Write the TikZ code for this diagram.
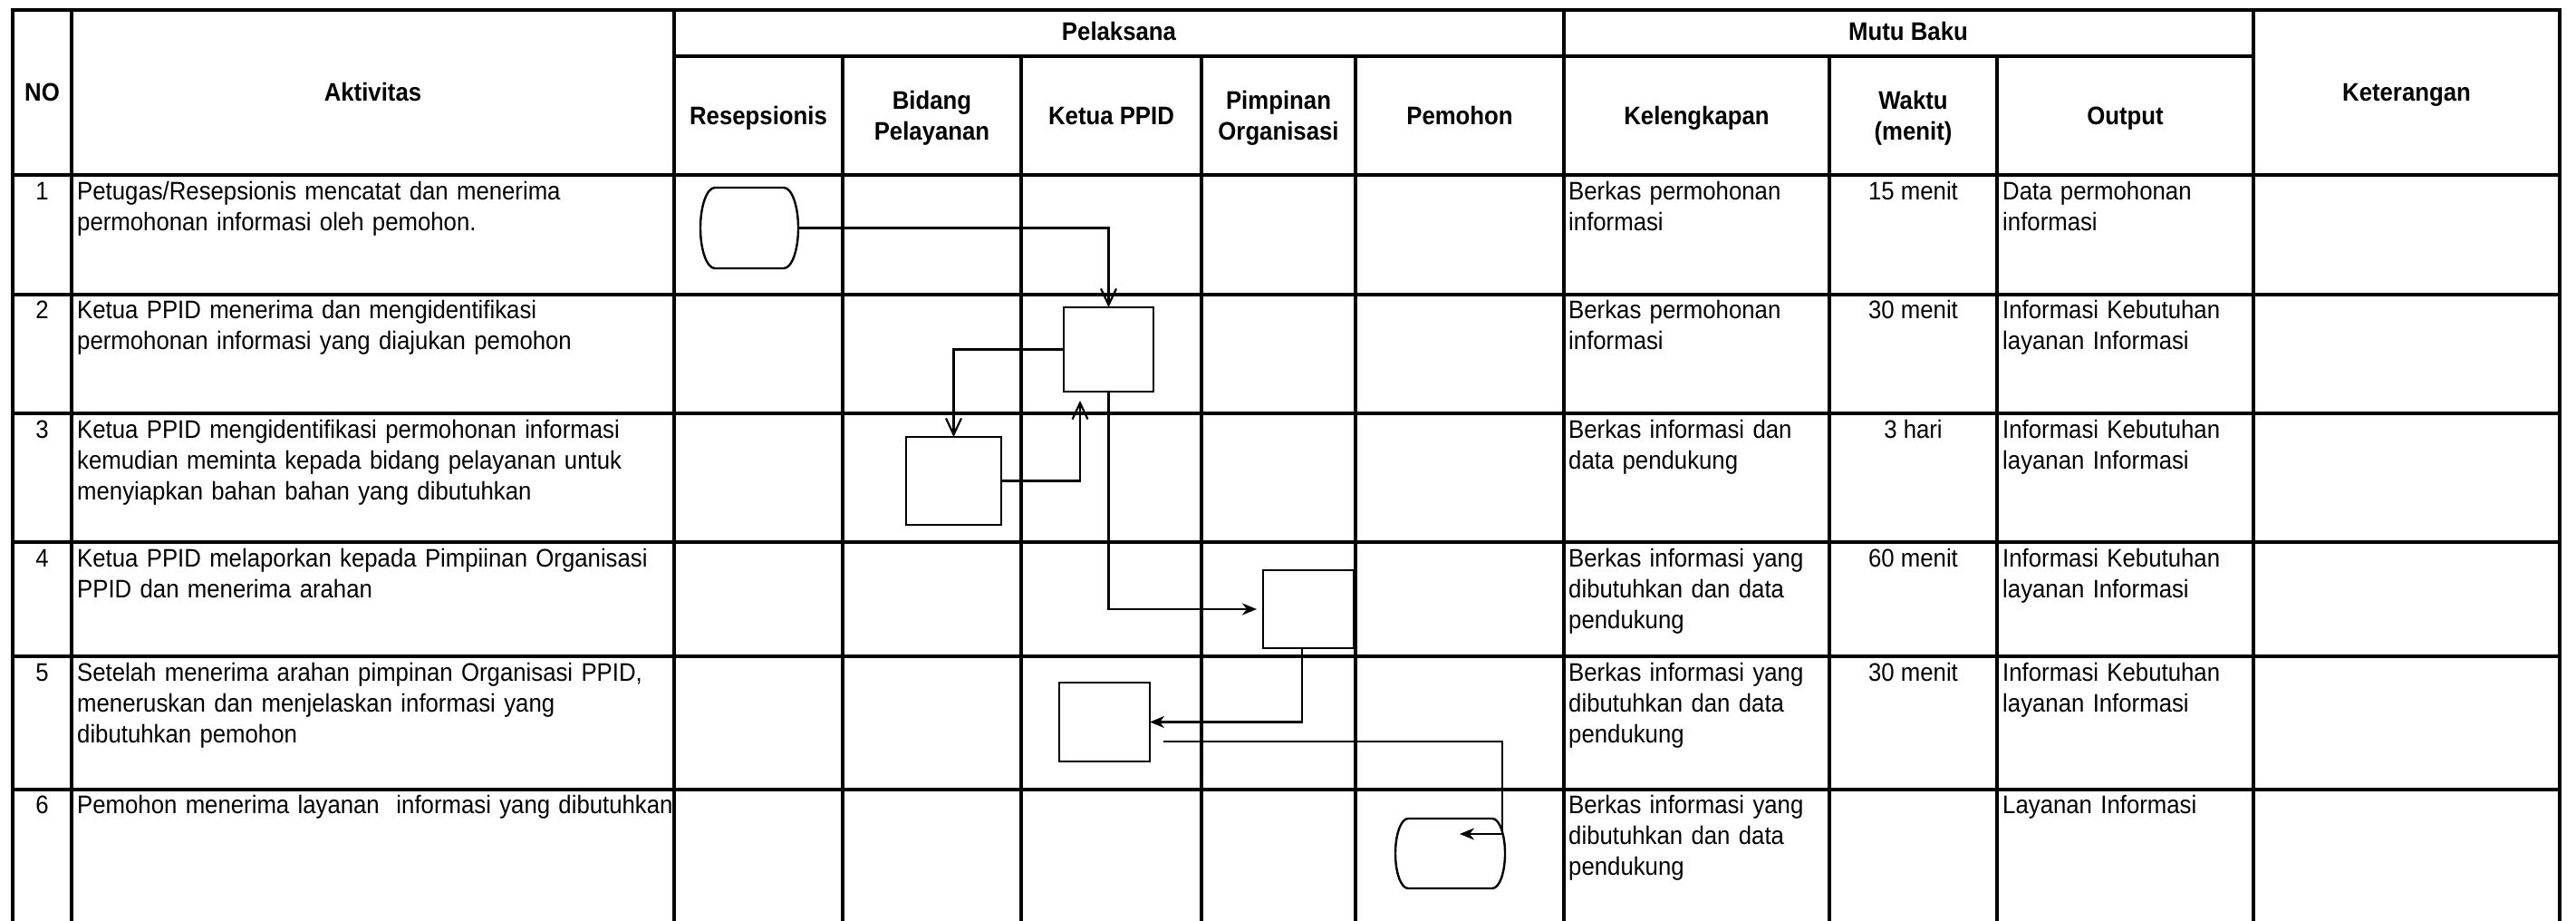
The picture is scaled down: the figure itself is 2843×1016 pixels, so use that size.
\documentclass[tikz,border=0pt]{standalone}
\usepackage{fontspec}
\setmainfont{Liberation Sans}[FakeStretch=0.92]
\usetikzlibrary{arrows.meta}
\newcommand\termout[3]{%
  \draw[shapeline] ([xshift=#2pt]#1.north west) -- ([xshift=-#2pt]#1.north east)
    .. controls +(0.552*#2pt,0pt) and +(0pt,0.552*#3pt) .. (#1.east)
    .. controls +(0pt,-0.552*#3pt) and +(0.552*#2pt,0pt) .. ([xshift=-#2pt]#1.south east)
    -- ([xshift=#2pt]#1.south west)
    .. controls +(-0.552*#2pt,0pt) and +(0pt,-0.552*#3pt) .. (#1.west)
    .. controls +(0pt,0.552*#3pt) and +(-0.552*#2pt,0pt) .. ([xshift=#2pt]#1.north west);}
\begin{document}
\begin{tikzpicture}[x=1pt,y=-1pt,
  gridline/.style={line width=3.5pt,line cap=rect},
  shapeline/.style={line width=2.4pt,line join=round},
  procbox/.style={draw,line width=2.4pt,inner sep=0pt,outer sep=0pt},
  termbox/.style={inner sep=0pt,outer sep=0pt},
  conn/.style={line width=2.2pt},
  arrO/.style={conn,-{Straight Barb[length=18pt,width=17pt]}},
  arrF/.style={conn,-{Stealth[length=16pt,width=13pt,inset=5pt]}},
  txt/.style={inner sep=0pt,anchor=base west,align=left,font=\fontsize{28}{34}\selectfont},
  ctxt/.style={inner sep=0pt,anchor=base,align=center,font=\fontsize{28}{34}\selectfont},
  htxt/.style={inner sep=0pt,anchor=base,align=center,font=\bfseries\fontsize{28}{34}\selectfont},
]
\useasboundingbox (0,0) rectangle (2843,1016);
\fill[white] (0,0) rectangle (2843,1016);
% grid
\foreach \yy in {11,193,325,456,598,724,871} \draw[gridline] (14,\yy) -- (2825,\yy);
\draw[gridline] (744,62) -- (2487,62);
\foreach \xx in {14,79,744,1726,2487,2825} \draw[gridline] (\xx,11) -- (\xx,1016);
\foreach \xx in {930,1127,1326,1496,2019,2204} \draw[gridline] (\xx,62) -- (\xx,1016);
% headers
\node[htxt] (hno) at (46.5,112) {NO};
\node[htxt] (hakt) at (411.5,112) {Aktivitas};
\node[htxt] (hket) at (2656,112) {Keterangan};
\node[htxt] (hpel) at (1235,45) {Pelaksana};
\node[htxt] (hmutu) at (2106,45) {Mutu Baku};
\node[htxt] (hres) at (837,138) {Resepsionis};
\node[htxt,text width=190pt] (hbid) at (1028.5,121) {Bidang\\Pelayanan};
\node[htxt] (hket2) at (1226.5,138) {Ketua PPID};
\node[htxt,text width=165pt] (hpim) at (1411,121) {Pimpinan\\Organisasi};
\node[htxt] (hpem) at (1611,138) {Pemohon};
\node[htxt] (hkel) at (1872.5,138) {Kelengkapan};
\node[htxt,text width=180pt] (hwak) at (2111.5,121) {Waktu\\(menit)};
\node[htxt] (hout) at (2345.5,138) {Output};
% row 1
\node[ctxt] (n1) at (46.5,221) {1};
\node[txt,text width=700pt] (a1) at (85,221) {Petugas/Resepsionis mencatat dan menerima\\permohonan informasi oleh pemohon.};
\node[txt,text width=300pt] (k1) at (1731,221) {Berkas permohonan\\informasi};
\node[ctxt] (w1) at (2111.5,221) {15 menit};
\node[txt,text width=300pt] (o1) at (2210,221) {Data permohonan\\informasi};
% row 2
\node[ctxt] (n2) at (46.5,352) {2};
\node[txt,text width=700pt] (a2) at (85,352) {Ketua PPID menerima dan mengidentifikasi\\permohonan informasi yang diajukan pemohon};
\node[txt,text width=300pt] (k2) at (1731,352) {Berkas permohonan\\informasi};
\node[ctxt] (w2) at (2111.5,352) {30 menit};
\node[txt,text width=300pt] (o2) at (2210,352) {Informasi Kebutuhan\\layanan Informasi};
% row 3
\node[ctxt] (n3) at (46.5,483) {3};
\node[txt,text width=700pt] (a3) at (85,483) {Ketua PPID mengidentifikasi permohonan informasi\\kemudian meminta kepada bidang pelayanan untuk\\menyiapkan bahan bahan yang dibutuhkan};
\node[txt,text width=300pt] (k3) at (1731,483) {Berkas informasi dan\\data pendukung};
\node[ctxt] (w3) at (2111.5,483) {3 hari};
\node[txt,text width=300pt] (o3) at (2210,483) {Informasi Kebutuhan\\layanan Informasi};
% row 4
\node[ctxt] (n4) at (46.5,625) {4};
\node[txt,text width=700pt] (a4) at (85,625) {Ketua PPID melaporkan kepada Pimpiinan Organisasi\\PPID dan menerima arahan};
\node[txt,text width=300pt] (k4) at (1731,625) {Berkas informasi yang\\dibutuhkan dan data\\pendukung};
\node[ctxt] (w4) at (2111.5,625) {60 menit};
\node[txt,text width=300pt] (o4) at (2210,625) {Informasi Kebutuhan\\layanan Informasi};
% row 5
\node[ctxt] (n5) at (46.5,751) {5};
\node[txt,text width=700pt] (a5) at (85,751) {Setelah menerima arahan pimpinan Organisasi PPID,\\meneruskan dan menjelaskan informasi yang\\dibutuhkan pemohon};
\node[txt,text width=300pt] (k5) at (1731,751) {Berkas informasi yang\\dibutuhkan dan data\\pendukung};
\node[ctxt] (w5) at (2111.5,751) {30 menit};
\node[txt,text width=300pt] (o5) at (2210,751) {Informasi Kebutuhan\\layanan Informasi};
% row 6
\node[ctxt] (n6) at (46.5,897) {6};
\node[txt,text width=700pt] (a6) at (85,897) {Pemohon menerima layanan\ \ informasi yang dibutuhkan};
\node[txt,text width=300pt] (k6) at (1731,897) {Berkas informasi yang\\dibutuhkan dan data\\pendukung};
\node[txt,text width=300pt] (o6) at (2210,897) {Layanan Informasi};
% flow shapes
\node[termbox,minimum width=108pt,minimum height=89pt] (t1) at (827,251.5) {};
\termout{t1}{16}{44.5}
\node[procbox,minimum width=99pt,minimum height=93pt] (b2) at (1223.5,385.5) {};
\node[procbox,minimum width=105pt,minimum height=97pt] (b3) at (1052.5,530.5) {};
\node[procbox,minimum width=100pt,minimum height=86pt] (b4) at (1444,672) {};
\node[procbox,minimum width=100pt,minimum height=87pt] (b5) at (1219,796.5) {};
\node[termbox,minimum width=121pt,minimum height=77pt] (t6) at (1600.5,941.5) {};
\termout{t6}{14}{38.5}
% connectors
\draw[arrO] (t1.east) -| (b2.north);
\draw[arrO] (b2.west) -| (b3.north);
\coordinate (c3) at (1192,442);
\draw[arrO] (b3.east) -| (c3);
\draw[arrF,shorten >=7pt] (b2.south) |- (b4.west);
\draw[arrF] ([xshift=-7pt]b4.south) |- (b5.east);
\coordinate (c6s) at (1284,818);
\coordinate (c6k) at (1658,920);
\coordinate (c6e) at (1611,920);
\draw[arrF] (c6s) -| (c6k) -- (c6e);
\end{tikzpicture}
\end{document}
